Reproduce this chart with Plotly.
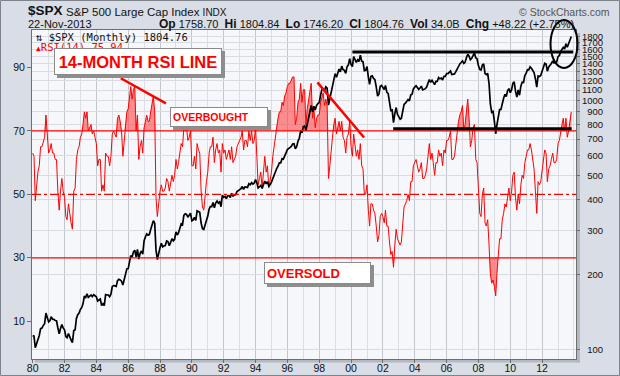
import math
import plotly.graph_objects as go

# ---------------- data (monthly, Jan-1980 .. Nov-2013) ----------------
start_year = 1980
spx_close = [
114.16, 113.66, 102.09, 106.29, 111.24, 114.24, 121.67, 122.38, 125.46, 127.47, 140.52, 135.76,
129.55, 131.27, 136.00, 132.81, 132.59, 131.21, 130.92, 122.79, 116.18, 121.89, 126.35, 122.55,
120.40, 113.11, 111.96, 116.44, 111.88, 109.61, 107.09, 119.51, 120.42, 133.71, 138.54, 140.64,
145.30, 148.06, 152.96, 164.42, 162.39, 168.11, 162.56, 164.40, 166.07, 163.55, 166.40, 164.93,
163.41, 157.06, 159.18, 160.05, 150.55, 153.18, 150.66, 166.68, 166.10, 166.09, 163.58, 167.24,
179.63, 181.18, 180.66, 179.83, 189.55, 191.85, 190.92, 188.63, 182.08, 189.82, 202.17, 211.28,
211.78, 226.92, 238.90, 235.52, 247.35, 250.84, 236.12, 252.93, 231.32, 243.98, 249.22, 242.17,
274.08, 284.20, 291.70, 288.36, 290.10, 304.00, 318.66, 329.80, 321.83, 251.79, 230.30, 247.08,
257.07, 267.82, 258.89, 261.33, 262.16, 273.50, 272.02, 261.52, 271.91, 278.97, 273.70, 277.72,
297.47, 288.86, 294.87, 309.64, 320.52, 317.98, 346.08, 351.45, 349.15, 340.36, 345.99, 353.40,
329.08, 331.89, 339.94, 330.80, 361.23, 358.02, 356.15, 322.56, 306.05, 304.00, 322.22, 330.22,
343.93, 367.07, 375.22, 375.35, 389.83, 371.16, 387.81, 395.43, 387.86, 392.46, 375.22, 417.09,
408.79, 412.70, 403.69, 414.95, 415.35, 408.14, 424.21, 414.03, 417.80, 418.68, 431.35, 435.71,
438.78, 443.38, 451.67, 440.19, 450.19, 450.53, 448.13, 463.56, 458.93, 467.83, 461.79, 466.45,
481.61, 467.14, 445.77, 450.91, 456.50, 444.27, 458.26, 475.49, 462.69, 472.35, 453.69, 459.27,
470.42, 487.39, 500.71, 514.71, 533.40, 544.75, 562.06, 561.88, 584.41, 581.50, 605.37, 615.93,
636.02, 640.43, 645.50, 654.17, 669.12, 670.63, 639.95, 651.99, 687.31, 705.27, 757.02, 740.74,
786.16, 790.82, 757.12, 801.34, 848.28, 885.14, 954.29, 899.47, 947.28, 914.62, 955.40, 970.43,
980.28, 1049.34, 1101.75, 1111.75, 1090.82, 1133.84, 1120.67, 957.28, 1017.01, 1098.67, 1163.63, 1229.23,
1279.64, 1238.33, 1286.37, 1335.18, 1301.84, 1372.71, 1328.72, 1320.41, 1282.71, 1362.93, 1388.91, 1469.25,
1394.46, 1366.42, 1498.58, 1452.43, 1420.60, 1454.60, 1430.83, 1517.68, 1436.51, 1429.40, 1314.95, 1320.28,
1366.01, 1239.94, 1160.33, 1249.46, 1255.82, 1224.42, 1211.23, 1133.58, 1040.94, 1059.78, 1139.45, 1148.08,
1130.20, 1106.73, 1147.39, 1076.92, 1067.14, 989.82, 911.62, 916.07, 815.28, 885.76, 936.31, 879.82,
855.70, 841.15, 848.18, 916.92, 963.59, 974.50, 990.31, 1008.01, 995.97, 1050.71, 1058.20, 1111.92,
1131.13, 1144.94, 1126.21, 1107.30, 1120.68, 1140.84, 1101.72, 1104.24, 1114.58, 1130.20, 1173.82, 1211.92,
1181.27, 1203.60, 1180.59, 1156.85, 1191.50, 1191.33, 1234.18, 1220.33, 1228.81, 1207.01, 1249.48, 1248.29,
1280.08, 1280.66, 1294.83, 1310.61, 1270.09, 1270.20, 1276.66, 1303.82, 1335.85, 1377.94, 1400.63, 1418.30,
1438.24, 1406.82, 1420.86, 1482.37, 1530.62, 1503.35, 1455.27, 1473.99, 1526.75, 1549.38, 1481.14, 1468.36,
1378.55, 1330.63, 1322.70, 1385.59, 1400.38, 1280.00, 1267.38, 1282.83, 1166.36, 968.75, 896.24, 903.25,
825.88, 735.09, 797.87, 872.81, 919.14, 919.32, 987.48, 1020.62, 1057.08, 1036.19, 1095.63, 1115.10,
1073.87, 1104.49, 1169.43, 1186.69, 1089.41, 1030.71, 1101.60, 1049.33, 1141.20, 1183.26, 1180.55, 1257.64,
1286.12, 1327.22, 1325.83, 1363.61, 1345.20, 1320.64, 1292.28, 1218.89, 1131.42, 1253.30, 1246.96, 1257.60,
1312.41, 1365.68, 1408.47, 1397.91, 1310.33, 1362.16, 1379.32, 1406.58, 1440.67, 1412.16, 1416.18, 1426.19,
1498.11, 1514.68, 1569.19, 1597.57, 1630.74, 1606.28, 1685.73, 1632.97, 1681.55, 1756.54, 1804.76,
]
rsi14 = [
63, 62, 48, 53, 57, 59, 65, 65, 67, 68, 75, 69,
63, 64, 66, 63, 63, 61, 61, 51, 45, 51, 55, 51,
49, 43, 42, 47, 43, 41, 39, 51, 52, 61, 64, 65,
68, 69, 72, 76, 74, 76, 70, 71, 72, 69, 70, 68,
66, 59, 61, 61, 51, 53, 51, 63, 62, 62, 59, 62,
69, 70, 69, 68, 74, 75, 73, 70, 62, 67, 73, 76,
77, 81, 84, 80, 83, 84, 70, 75, 61, 65, 67, 63,
71, 73, 75, 73, 73, 76, 79, 81, 76, 49, 43, 48,
51, 53, 51, 51, 52, 55, 54, 51, 54, 56, 54, 56,
61, 58, 60, 64, 66, 65, 71, 72, 71, 67, 68, 70,
59, 59, 62, 58, 66, 64, 63, 51, 46, 45, 51, 54,
57, 63, 65, 65, 68, 60, 64, 66, 63, 64, 57, 66,
63, 64, 61, 63, 64, 61, 65, 60, 61, 62, 65, 66,
67, 68, 70, 64, 67, 67, 65, 70, 67, 70, 66, 67,
71, 63, 53, 55, 57, 52, 57, 62, 57, 59, 52, 54,
57, 62, 65, 68, 72, 74, 76, 76, 79, 78, 81, 82,
84, 85, 85, 86, 87, 87, 72, 74, 79, 80, 85, 79,
83, 83, 72, 77, 80, 82, 85, 74, 77, 71, 74, 75,
75, 79, 81, 82, 78, 80, 78, 55, 59, 65, 68, 72,
74, 69, 71, 73, 70, 73, 68, 67, 63, 68, 69, 73,
65, 62, 69, 65, 62, 64, 61, 66, 59, 58, 50, 50,
53, 45, 40, 47, 47, 45, 44, 40, 35, 37, 43, 44,
43, 41, 45, 40, 40, 35, 31, 32, 27, 34, 39, 36,
35, 34, 35, 41, 46, 47, 48, 50, 48, 54, 54, 59,
60, 61, 59, 57, 58, 60, 55, 55, 56, 58, 62, 66,
61, 63, 60, 56, 60, 60, 64, 62, 63, 59, 64, 63,
67, 67, 68, 70, 61, 61, 62, 66, 69, 73, 75, 76,
78, 70, 72, 77, 80, 74, 65, 67, 71, 72, 61, 60,
49, 44, 43, 50, 52, 41, 40, 42, 34, 25, 22, 23,
21, 18, 25, 32, 36, 36, 42, 44, 47, 46, 50, 52,
48, 51, 56, 57, 49, 45, 50, 47, 53, 56, 55, 60,
62, 64, 64, 66, 64, 61, 58, 51, 44, 54, 53, 54,
58, 61, 64, 63, 54, 58, 59, 61, 63, 60, 60, 61,
66, 67, 70, 72, 74, 70, 74, 68, 70, 74, 76,
]
price_ticks = [100, 200, 300, 400, 500, 600, 700, 800, 900, 1000,
               1100, 1200, 1300, 1400, 1500, 1600, 1700, 1800]
rsi_ticks = [10, 30, 50, 70, 90]
year_ticks = list(range(1980, 2013, 2))
overbought, midline, oversold = 70, 50, 30

dates = [f"{start_year + i // 12}-{i % 12 + 1:02d}-01" for i in range(len(spx_close))]

# ---------------- pixel helpers for layout decorations ----------------
L, R, T, B = 32, 576, 30, 359


def px(x):
    return (x - L) / (R - L)


def py(y):
    return (B - y) / (B - T)


RED = "#ff0000"
FILL = "rgba(255,70,70,0.6)"

fig = go.Figure()

# RSI fills (overbought / oversold)
fig.add_trace(go.Scatter(x=dates, y=[overbought] * len(rsi14), mode="lines",
                         line=dict(width=0), hoverinfo="skip", showlegend=False, yaxis="y"))
fig.add_trace(go.Scatter(x=dates, y=[max(v, overbought) for v in rsi14], mode="lines",
                         line=dict(width=0), fill="tonexty", fillcolor=FILL,
                         hoverinfo="skip", showlegend=False, yaxis="y"))
fig.add_trace(go.Scatter(x=dates, y=[oversold] * len(rsi14), mode="lines",
                         line=dict(width=0), hoverinfo="skip", showlegend=False, yaxis="y"))
fig.add_trace(go.Scatter(x=dates, y=[min(v, oversold) for v in rsi14], mode="lines",
                         line=dict(width=0), fill="tonexty", fillcolor=FILL,
                         hoverinfo="skip", showlegend=False, yaxis="y"))
# RSI line
fig.add_trace(go.Scatter(x=dates, y=rsi14, mode="lines", line=dict(color=RED, width=1),
                         name="RSI(14)", showlegend=False, yaxis="y"))
# Price
fig.add_trace(go.Scatter(x=dates, y=spx_close, mode="lines",
                         line=dict(color="black", width=1.7),
                         name="$SPX", showlegend=False, yaxis="y2"))

shapes = []
# RSI reference lines
for lvl, dash in [(overbought, "solid"), (midline, "dashdot"), (oversold, "solid")]:
    shapes.append(dict(type="line", xref="paper", x0=0, x1=1, yref="y", y0=lvl, y1=lvl,
                       line=dict(color=RED, width=1.2, dash=dash)))
# trend lines on RSI
shapes.append(dict(type="line", xref="x", yref="y", x0="1985-07-15", y0=86.6,
                   x1="1988-05-15", y1=78.7, line=dict(color=RED, width=2.5)))
shapes.append(dict(type="line", xref="x", yref="y", x0="1997-11-20", y0=85.3,
                   x1="2000-10-25", y1=67.9, line=dict(color=RED, width=2.5)))
# support / resistance on price
shapes.append(dict(type="line", xref="x", yref="y2", x0="2000-02-01", y0=1563,
                   x1="2013-12-15", y1=1563, line=dict(color="black", width=3)))
shapes.append(dict(type="line", xref="x", yref="y2", x0="2002-08-25", y0=770,
                   x1="2013-11-10", y1=770, line=dict(color="black", width=3)))
# ellipse around latest prices
shapes.append(dict(type="circle", xref="paper", yref="paper", x0=px(550.5), x1=px(577.5),
                   y0=py(68), y1=py(20), line=dict(color="black", width=2)))
# plot shadow
shapes.append(dict(type="rect", xref="paper", yref="paper", x0=px(576.5), x1=px(580),
                   y0=py(362.5), y1=py(33), line=dict(width=0), fillcolor="#b3b8c2", layer="below"))
shapes.append(dict(type="rect", xref="paper", yref="paper", x0=px(35), x1=px(580),
                   y0=py(362.5), y1=py(359.5), line=dict(width=0), fillcolor="#b3b8c2", layer="below"))
# text box shadows
for (x0, y0, x1, y1) in [(54, 48, 222, 75), (170, 107, 268, 127), (264, 262, 371, 284)]:
    shapes.append(dict(type="rect", xref="paper", yref="paper", x0=px(x0 + 3), x1=px(x1 + 3),
                       y0=py(y1 + 3), y1=py(y0 + 3), line=dict(width=0), fillcolor="#8e8e8e"))
# outer frame
shapes.append(dict(type="rect", xref="paper", yref="paper", x0=px(0.5), x1=px(619.5),
                   y0=py(375.5), y1=py(0.5), line=dict(color="#7d828c", width=1)))

ann = []
HF = "Liberation Sans, Arial, sans-serif"
ann.append(dict(x=px(26), y=py(11), xref="paper", yref="paper", xanchor="left", yanchor="middle",
                text="<b>$SPX</b>", showarrow=False, font=dict(family=HF, size=13.5, color="#111")))
ann.append(dict(x=px(64), y=py(11.5), xref="paper", yref="paper", xanchor="left", yanchor="middle",
                text="S&P 500 Large Cap Index <span style='font-size:10px'>INDX</span>",
                showarrow=False, font=dict(family=HF, size=11.5, color="#111")))
ann.append(dict(x=px(612), y=py(12), xref="paper", yref="paper", xanchor="right", yanchor="middle",
                text="© StockCharts.com", showarrow=False, font=dict(family=HF, size=10.5, color="#555")))
ann.append(dict(x=px(26), y=py(24.5), xref="paper", yref="paper", xanchor="left", yanchor="middle",
                text="22-Nov-2013", showarrow=False, font=dict(family=HF, size=11, color="#111")))
lab = lambda s: f"<b><span style='font-size:12px'>{s}</span></b>"
ann.append(dict(x=px(576), y=py(24.5), xref="paper", yref="paper", xanchor="right", yanchor="middle",
                text=(f"{lab('Op')} 1758.70  {lab('Hi')} 1804.84  {lab('Lo')} 1746.20  "
                      f"{lab('Cl')} 1804.76  {lab('Vol')} 34.0B  {lab('Chg')} +48.22 (+2.75%)"),
                showarrow=False, font=dict(family=HF, size=11, color="#111")))
# in-plot legend
ann.append(dict(x=px(34), y=py(37), xref="paper", yref="paper", xanchor="left", yanchor="middle",
                text="⇅ $SPX (Monthly) 1804.76", showarrow=False,
                font=dict(family="DejaVu Sans Mono", size=10.5, color="#111")))
ann.append(dict(x=px(34), y=py(46.5), xref="paper", yref="paper", xanchor="left", yanchor="middle",
                text="<span style='font-size:8px'>▲</span>RSI(14) 75.94", showarrow=False,
                font=dict(family="DejaVu Sans Mono", size=10.5, color=RED)))
# text boxes
ann.append(dict(x=px(54), y=py(48), xref="paper", yref="paper", xanchor="left", yanchor="top",
                width=166, height=25, borderpad=0, borderwidth=1, bordercolor="#8a8a8a",
                bgcolor="white", align="center", valign="middle", showarrow=False,
                text="<b>14-MONTH RSI LINE</b>", font=dict(family=HF, size=16.5, color=RED)))
ann.append(dict(x=px(170), y=py(107), xref="paper", yref="paper", xanchor="left", yanchor="top",
                width=92, height=14, borderpad=2, borderwidth=1, bordercolor="#8a8a8a",
                bgcolor="white", align="left", valign="middle", showarrow=False,
                text="<b>OVERBOUGHT</b>", font=dict(family=HF, size=10.5, color=RED)))
ann.append(dict(x=px(264), y=py(262), xref="paper", yref="paper", xanchor="left", yanchor="top",
                width=101, height=16, borderpad=2, borderwidth=1, bordercolor="#8a8a8a",
                bgcolor="white", align="left", valign="middle", showarrow=False,
                text="<b>OVERSOLD</b>", font=dict(family=HF, size=13, color=RED)))

AX = "#6e6e6e"
TF = dict(family=HF, size=10.5, color="#111")
fig.update_layout(
    width=620, height=376,
    margin=dict(l=L, r=620 - R, t=T, b=376 - B, pad=0, autoexpand=False),
    paper_bgcolor="#d9dde5", plot_bgcolor="#f6f7fb",
    showlegend=False,
    xaxis=dict(type="date", range=["1979-12-17", "2014-02-17"],
               tickmode="array", tickvals=[f"{y}-01-01" for y in year_ticks],
               ticktext=[f"{y % 100:02d}" for y in year_ticks],
               showgrid=True, gridcolor="#c3c6cd", gridwidth=1,
               minor=dict(dtick="M12", tick0="1980-01-01", showgrid=True,
                          gridcolor="#dcdee4", gridwidth=1),
               ticks="outside", ticklen=3, tickcolor=AX, ticklabelstandoff=-4,
               tickfont=dict(family=HF, size=10.5, color="#111"),
               showline=True, linecolor=AX, linewidth=1, mirror=True, zeroline=False),
    yaxis=dict(range=[-1.9, 101.8], tickvals=rsi_ticks, ticktext=[str(v) for v in rsi_ticks],
               side="left", showgrid=False, zeroline=False, ticks="outside", ticklen=4,
               tickcolor=AX, tickfont=TF, showline=True, linecolor=AX, linewidth=1, mirror=True),
    yaxis2=dict(type="log", range=[math.log10(92.0), math.log10(1915.0)], overlaying="y",
                side="right", tickvals=price_ticks,
                ticktext=[("\u2007" if v < 1000 else "") + str(v) for v in price_ticks],
                showgrid=True, gridcolor="#d9dbe2", gridwidth=1, zeroline=False,
                ticks="outside", ticklen=3, tickcolor=AX,
                tickfont=dict(family=HF, size=9.5, color="#111")),
    shapes=shapes, annotations=ann,
)
fig.write_html("out.html", config={"displayModeBar": False},
               post_script="document.body.style.margin='0';document.body.style.overflow='hidden';")
